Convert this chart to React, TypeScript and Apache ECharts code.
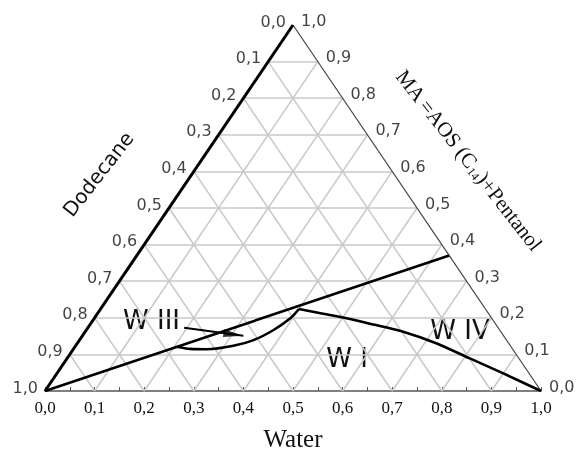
import React, { useEffect, useRef } from "react";
import * as echarts from "echarts";

// tick values and labels
const ticks = [0, 0.1, 0.2, 0.3, 0.4, 0.5, 0.6, 0.7, 0.8, 0.9, 1.0];
const waterLabels = ["0,0", "0,1", "0,2", "0,3", "0,4", "0,5", "0,6", "0,7", "0,8", "0,9", "1,0"];
const dodecaneLabels = ["0,0", "0,1", "0,2", "0,3", "0,4", "0,5", "0,6", "0,7", "0,8", "0,9", "1,0"];
const maLabels = ["0,0", "0,1", "0,2", "0,3", "0,4", "0,5", "0,6", "0,7", "0,8", "0,9", "1,0"];

// compositions (Water fraction, MA fraction); Dodecane = 1 - Water - MA
const tieW = [0.0, 0.63];
const tieMA = [0.0, 0.37];
const lensW = [0.205, 0.235, 0.269, 0.318, 0.351, 0.377, 0.395, 0.4];
const lensMA = [0.121, 0.115, 0.114, 0.1235, 0.139, 0.166, 0.198, 0.224];
const binodalW = [0.4, 0.486, 0.563, 0.641, 0.725, 0.812, 0.9, 1.0];
const binodalMA = [0.224, 0.204, 0.184, 0.162, 0.13, 0.089, 0.048, 0.0];
const arrowW = [0.194, 0.3245];
const arrowMA = [0.173, 0.1507];

const toXY = (w: number, m: number): [number, number] => [w + m / 2, m];

export default function App() {
  const ref = useRef<HTMLDivElement>(null);
  useEffect(() => {
    if (!ref.current) return;
    const chart = echarts.init(ref.current, undefined, { renderer: "svg" });
    const inner = ticks.slice(1, -1);
    const gridCoords: [number, number][][] = [];
    inner.forEach((m) => gridCoords.push([toXY(0, m), toXY(1 - m, m)]));
    inner.forEach((w) => gridCoords.push([toXY(w, 0), toXY(w, 1 - w)]));
    inner.forEach((d) => gridCoords.push([toXY(1 - d, 0), toXY(0, 1 - d)]));

    const arrowStart = toXY(arrowW[0], arrowMA[0]);
    const arrowTip = toXY(arrowW[1], arrowMA[1]);

    const serif = "'Liberation Serif', 'Times New Roman', serif";
    const sans = "'DejaVu Sans', sans-serif";

    chart.setOption({
      animation: false,
      grid: { left: 45, right: 38, top: 25, bottom: 63.3 },
      xAxis: {
        type: "value",
        min: 0,
        max: 1,
        interval: 0.1,
        splitLine: { show: false },
        axisLine: { lineStyle: { color: "#555", width: 1.6 } },
        axisTick: { inside: true, length: 4, lineStyle: { color: "#555", width: 1 } },
        minorTick: { show: true, splitNumber: 2, length: 4, lineStyle: { color: "#555", width: 1 } },
        axisLabel: {
          formatter: (v: number) => waterLabels[Math.round(v * 10)],
          fontFamily: serif,
          fontSize: 17,
          color: "#111",
          margin: 8,
          showMinLabel: true,
          showMaxLabel: true,
        },
        name: "Water",
        nameLocation: "middle",
        nameGap: 35,
        nameTextStyle: { fontFamily: serif, fontSize: 25, color: "#111" },
      },
      yAxis: { type: "value", min: 0, max: 1, show: false },
      series: [
        {
          type: "lines",
          coordinateSystem: "cartesian2d",
          silent: true,
          z: 1,
          lineStyle: { color: "#c8c8c8", width: 1.5, opacity: 1 },
          data: gridCoords.map((c) => ({ coords: c })),
        },
        {
          type: "lines",
          coordinateSystem: "cartesian2d",
          silent: true,
          z: 3,
          lineStyle: { color: "#444", width: 1.2, opacity: 1 },
          data: [{ coords: [toXY(1, 0), toXY(0, 1)] }],
        },
        {
          type: "lines",
          coordinateSystem: "cartesian2d",
          silent: true,
          z: 4,
          lineStyle: { color: "#000", width: 3, opacity: 1 },
          data: [{ coords: [toXY(0, 0), toXY(0, 1)] }],
        },
        {
          type: "line",
          silent: true,
          z: 5,
          symbol: "none",
          lineStyle: { color: "#000", width: 2.6 },
          data: tieW.map((w, i) => toXY(w, tieMA[i])),
        },
        {
          type: "line",
          silent: true,
          z: 5,
          symbol: "none",
          smooth: 0.3,
          lineStyle: { color: "#000", width: 2.6 },
          data: lensW.map((w, i) => toXY(w, lensMA[i])),
        },
        {
          type: "line",
          silent: true,
          z: 5,
          symbol: "none",
          smooth: 0.25,
          lineStyle: { color: "#000", width: 2.6 },
          data: binodalW.map((w, i) => toXY(w, binodalMA[i])),
        },
        {
          type: "line",
          silent: true,
          z: 5,
          symbol: "none",
          lineStyle: { color: "#000", width: 2 },
          data: [arrowStart, arrowTip],
        },
        {
          id: "arrowHead",
          type: "scatter",
          silent: true,
          z: 6,
          symbol: "triangle",
          symbolSize: [8, 20],
          itemStyle: { color: "#000" },
          data: [arrowTip],
        },
        {
          type: "scatter",
          silent: true,
          symbolSize: 0,
          data: ticks.map((d) => toXY(0, 1 - d)),
          label: {
            show: true,
            position: "left",
            distance: 7,
            offset: [0, -4],
            formatter: (p: any) => dodecaneLabels[p.dataIndex],
            fontFamily: sans,
            fontSize: 16,
            color: "#111",
          },
        },
        {
          type: "scatter",
          silent: true,
          symbolSize: 0,
          data: ticks.map((m) => toXY(1 - m, m)),
          label: {
            show: true,
            position: "right",
            distance: 8,
            offset: [0, -5],
            formatter: (p: any) => maLabels[p.dataIndex],
            fontFamily: sans,
            fontSize: 16,
            color: "#111",
          },
        },
      ],
      graphic: [
        {
          type: "text",
          x: 151.5,
          y: 319.5,
          style: { text: "W III", font: `26px ${sans}`, fill: "#111", align: "center", verticalAlign: "middle", textAlign: "center", textVerticalAlign: "middle" },
        },
        {
          type: "text",
          x: 347,
          y: 358,
          style: { text: "W I", font: `26px ${sans}`, fill: "#111", align: "center", verticalAlign: "middle", textAlign: "center", textVerticalAlign: "middle" },
        },
        {
          type: "text",
          x: 460,
          y: 330,
          style: { text: "W IV", font: `26px ${sans}`, fill: "#111", align: "center", verticalAlign: "middle", textAlign: "center", textVerticalAlign: "middle" },
        },
        {
          type: "text",
          x: 98,
          y: 174,
          rotation: (52 * Math.PI) / 180,
          style: { text: "Dodecane", font: `20px ${sans}`, fill: "#111", align: "center", verticalAlign: "middle", textAlign: "center", textVerticalAlign: "middle" },
        },
        {
          type: "text",
          x: 469,
          y: 160,
          rotation: (-52 * Math.PI) / 180,
          style: {
            text: "MA =AOS (C{sub|14})+Pentanol",
            font: `21px ${serif}`,
            fill: "#111",
            align: "center",
            verticalAlign: "middle",
            textAlign: "center",
            textVerticalAlign: "middle",
            rich: {
              sub: { fontFamily: serif, fontSize: 12, fill: "#111", padding: [10, 0, 0, 0] },
            },
          },
        },
      ],
    });

    const p0 = chart.convertToPixel({ xAxisIndex: 0, yAxisIndex: 0 }, arrowStart) as number[];
    const p1 = chart.convertToPixel({ xAxisIndex: 0, yAxisIndex: 0 }, arrowTip) as number[];
    const dx = p1[0] - p0[0];
    const dy = p1[1] - p0[1];
    const len = Math.sqrt(dx * dx + dy * dy) || 1;
    const ux = dx / len;
    const uy = dy / len;
    const ang = (Math.atan2(-uy, ux) * 180) / Math.PI;
    chart.setOption({
      series: [
        {
          id: "arrowHead",
          symbolRotate: ang - 90,
          symbolOffset: [-ux * 10, -uy * 10],
        },
      ],
    });

    return () => chart.dispose();
  }, []);
  return <div ref={ref} style={{ position: "fixed", left: 0, top: 0, width: 579, height: 456 }} />;
}
